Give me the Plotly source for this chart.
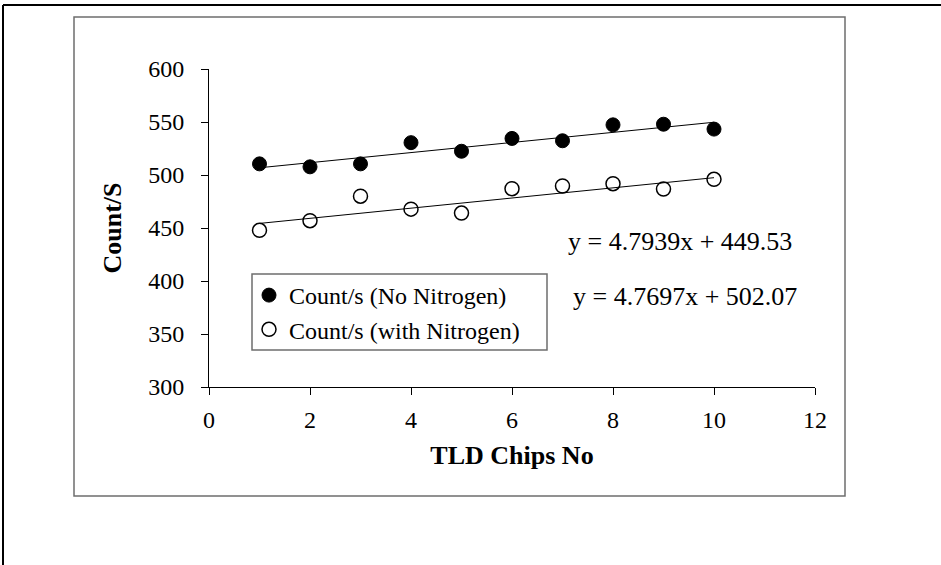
import plotly.graph_objects as go

chips = [1, 2, 3, 4, 5, 6, 7, 8, 9, 10]
no_nitrogen = [510.5, 507.7, 510.5, 530.5, 522.4, 534.5, 532.3, 547.3, 547.9, 543.3]
with_nitrogen = [447.8, 456.9, 480.0, 467.8, 464.1, 487.1, 489.6, 491.8, 486.8, 495.9]

fit_no = (4.7697, 502.07)
fit_with = (4.7939, 449.53)

x_ticks = [0, 2, 4, 6, 8, 10, 12]
y_ticks = [300, 350, 400, 450, 500, 550, 600]

FONT = "Liberation Serif, Times New Roman, serif"

fig = go.Figure()

line_x = [chips[0], chips[-1]]
fig.add_trace(go.Scatter(
    x=line_x, y=[fit_no[0] * v + fit_no[1] for v in line_x],
    mode="lines", line=dict(color="black", width=1), showlegend=False, hoverinfo="skip"))
fig.add_trace(go.Scatter(
    x=line_x, y=[fit_with[0] * v + fit_with[1] for v in line_x],
    mode="lines", line=dict(color="black", width=1), showlegend=False, hoverinfo="skip"))

fig.add_trace(go.Scatter(
    x=chips, y=no_nitrogen, mode="markers", name="Count/s (No Nitrogen)",
    marker=dict(symbol="circle", size=14, color="black", line=dict(color="black", width=1))))
fig.add_trace(go.Scatter(
    x=chips, y=with_nitrogen, mode="markers", name="Count/s (with Nitrogen)",
    marker=dict(symbol="circle-open", size=14, color="black", line=dict(color="black", width=1.5))))

def px2x(p):
    return (p - 209) / 606.0

def px2y(p):
    return (387 - p) / 318.0

shapes = [
    # inner chart frame
    dict(type="rect", xref="paper", yref="paper", x0=px2x(74), x1=px2x(845), y0=px2y(496), y1=px2y(17),
         line=dict(color="#6e6e6e", width=1.5), layer="below"),
    # outer frame (top and left edges)
    dict(type="line", xref="paper", yref="paper", x0=px2x(3), x1=px2x(945), y0=px2y(5), y1=px2y(5),
         line=dict(color="black", width=2)),
    dict(type="line", xref="paper", yref="paper", x0=px2x(3), x1=px2x(3), y0=px2y(5), y1=px2y(570),
         line=dict(color="black", width=2)),
    # legend box
    dict(type="rect", xref="paper", yref="paper", x0=px2x(252), x1=px2x(547), y0=px2y(350), y1=px2y(274),
         line=dict(color="#6e6e6e", width=1.5)),
]

annotations = [
    dict(text="y = 4.7939x + 449.53", xref="paper", yref="paper", x=px2x(566), y=px2y(241),
         xanchor="left", yanchor="middle", showarrow=False, font=dict(family=FONT, size=26, color="black")),
    dict(text="y = 4.7697x + 502.07", xref="paper", yref="paper", x=px2x(571), y=px2y(296),
         xanchor="left", yanchor="middle", showarrow=False, font=dict(family=FONT, size=26, color="black")),
]

fig.update_layout(
    width=941, height=565,
    margin=dict(l=209, r=126, t=69, b=178),
    paper_bgcolor="white", plot_bgcolor="white",
    font=dict(family=FONT, size=24, color="black"),
    shapes=shapes, annotations=annotations,
    legend=dict(x=px2x(249), y=px2y(273), xanchor="left", yanchor="top",
                bgcolor="rgba(0,0,0,0)", borderwidth=0,
                font=dict(family=FONT, size=24, color="black"),
                itemwidth=30, tracegroupgap=0),
    xaxis=dict(range=[0, 12], tickvals=x_ticks, ticktext=[str(v) for v in x_ticks],
               showgrid=False, zeroline=False, showline=True, linecolor="black", linewidth=1,
               ticks="outside", ticklen=7, tickcolor="black", tickwidth=1,
               ticklabelstandoff=4,
               tickfont=dict(family=FONT, size=24, color="black"),
               title=dict(text="<b>TLD Chips No</b>", standoff=14,
                          font=dict(family=FONT, size=26, color="black"))),
    yaxis=dict(range=[300, 600], tickvals=y_ticks, ticktext=[str(v) for v in y_ticks],
               showgrid=False, zeroline=False, showline=True, linecolor="black", linewidth=1,
               ticks="outside", ticklen=7, tickcolor="black", tickwidth=1,
               ticklabelstandoff=12,
               tickfont=dict(family=FONT, size=24, color="black"),
               title=dict(text="<b>Count/S</b>", standoff=19,
                          font=dict(family=FONT, size=26, color="black"))),
)

fig.write_html("out.html")
